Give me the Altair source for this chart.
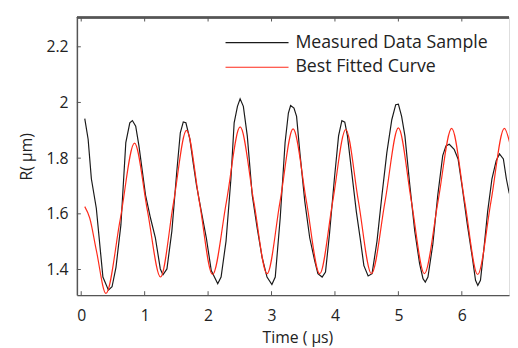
import altair as alt
import pandas as pd

# Measured data (black)
black_t = [0.056, 0.109, 0.16, 0.238, 0.342, 0.429, 0.486, 0.548, 0.626, 0.703, 0.766, 0.807, 0.859, 0.91,
           1.014, 1.092, 1.169, 1.247, 1.289, 1.351, 1.429, 1.506, 1.562, 1.609, 1.65, 1.713, 1.764, 1.817,
           1.894, 1.972, 2.05, 2.152, 2.205, 2.283, 2.36, 2.411, 2.463, 2.505, 2.556, 2.618, 2.696, 2.773,
           2.851, 2.929, 3.006, 3.059, 3.137, 3.214, 3.266, 3.301, 3.354, 3.395, 3.447, 3.525, 3.602, 3.68,
           3.731, 3.798, 3.851, 3.913, 3.991, 4.057, 4.109, 4.155, 4.197, 4.264, 4.337, 4.404, 4.456, 4.523,
           4.585, 4.663, 4.741, 4.818, 4.896, 4.958, 5.0, 5.051, 5.103, 5.18, 5.258, 5.335, 5.388, 5.424,
           5.466, 5.543, 5.621, 5.699, 5.75, 5.802, 5.879, 5.941, 6.009, 6.087, 6.165, 6.216, 6.252, 6.294,
           6.345, 6.407, 6.475, 6.542, 6.593, 6.655, 6.702, 6.748]
black_r = [1.942, 1.868, 1.726, 1.620, 1.373, 1.326, 1.338, 1.408, 1.561, 1.856, 1.927, 1.935, 1.915, 1.844,
           1.667, 1.585, 1.514, 1.402, 1.381, 1.402, 1.538, 1.75, 1.891, 1.930, 1.927, 1.868, 1.785, 1.703,
           1.608, 1.514, 1.396, 1.349, 1.373, 1.502, 1.726, 1.927, 1.986, 2.013, 1.986, 1.88, 1.667, 1.55,
           1.444, 1.373, 1.346, 1.373, 1.585, 1.856, 1.962, 1.989, 1.98, 1.95, 1.82, 1.644, 1.514, 1.432,
           1.385, 1.373, 1.391, 1.526, 1.726, 1.88, 1.935, 1.929, 1.88, 1.75, 1.608, 1.502, 1.414, 1.377,
           1.385, 1.502, 1.667, 1.82, 1.938, 1.992, 1.994, 1.95, 1.88, 1.703, 1.538, 1.42, 1.367, 1.355,
           1.373, 1.491, 1.667, 1.809, 1.844, 1.85, 1.832, 1.797, 1.691, 1.561, 1.444, 1.361, 1.343, 1.361,
           1.467, 1.608, 1.726, 1.791, 1.815, 1.797, 1.726, 1.673]

# Best fitted curve (red)
red_t = [0.056, 0.134, 0.24, 0.39, 0.615, 0.84, 1.045, 1.25, 1.455, 1.66, 1.865, 2.07, 2.29, 2.505, 2.72,
         2.93, 3.135, 3.34, 3.55, 3.76, 3.965, 4.17, 4.37, 4.575, 4.79, 5.0, 5.205, 5.41, 5.625, 5.84,
         6.045, 6.25, 6.46, 6.67, 6.76]
red_r = [1.626, 1.585, 1.467, 1.314, 1.58, 1.854, 1.61, 1.373, 1.64, 1.90, 1.64, 1.382, 1.645, 1.912, 1.645,
         1.385, 1.645, 1.905, 1.645, 1.385, 1.645, 1.903, 1.645, 1.385, 1.645, 1.909, 1.645, 1.385, 1.645,
         1.907, 1.645, 1.382, 1.645, 1.907, 1.85]

x_ticks = [0, 1, 2, 3, 4, 5, 6]
y_ticks = [1.4, 1.6, 1.8, 2.0, 2.2]
series_names = ["Measured Data Sample", "Best Fitted Curve"]
series_colors = ["#1a1a1a", "#ff2a1a"]

FONT = "Open Sans"
W, H = 439, 282
AXC = "#555555"

xs = alt.Scale(domain=[-0.068, 6.744], nice=False, zero=False)
ys = alt.Scale(domain=[1.308, 2.305], nice=False, zero=False)

black_df = pd.DataFrame({"t": black_t, "r": black_r})
red_df = pd.DataFrame({"t": red_t, "r": red_r})
xt_df = pd.DataFrame({"t": x_ticks})
yt_df = pd.DataFrame({"r": y_ticks})

xaxis = alt.Axis(values=x_ticks, tickSize=0, grid=False, domainColor=AXC, domainWidth=1.5, format="d",
                 labelFont=FONT, labelFontSize=16, labelColor="#222", labelPadding=13,
                 title="Time ( μs)", titleFont=FONT, titleFontSize=16, titleFontWeight="normal",
                 titleColor="#222", titlePadding=6, titleX=224)
yaxis = alt.Axis(values=y_ticks, tickSize=0, grid=False, domainColor=AXC, domainWidth=1.5, format="~g",
                 labelFont=FONT, labelFontSize=16, labelColor="#222", labelPadding=9,
                 title="R( μm)", titleFont=FONT, titleFontSize=16, titleFontWeight="normal",
                 titleColor="#222", titlePadding=12)

black_line = alt.Chart(black_df).mark_line(color=series_colors[0], strokeWidth=1.2, clip=True).encode(
    x=alt.X("t:Q", scale=xs, axis=xaxis),
    y=alt.Y("r:Q", scale=ys, axis=yaxis),
    order="t:Q",
)
red_line = alt.Chart(red_df).mark_line(color=series_colors[1], strokeWidth=1.2, clip=True,
                                       interpolate="monotone").encode(
    x=alt.X("t:Q", scale=xs), y=alt.Y("r:Q", scale=ys), order="t:Q")

xt_bottom = alt.Chart(xt_df).mark_rule(color=AXC, strokeWidth=1).encode(
    x=alt.X("t:Q", scale=xs), y=alt.value(H), y2=alt.value(H - 4))
xt_top = alt.Chart(xt_df).mark_rule(color=AXC, strokeWidth=1).encode(
    x=alt.X("t:Q", scale=xs), y=alt.value(0), y2=alt.value(4))
yt_left = alt.Chart(yt_df).mark_rule(color=AXC, strokeWidth=1).encode(
    y=alt.Y("r:Q", scale=ys), x=alt.value(0), x2=alt.value(4))
top_border = alt.Chart(xt_df).mark_rule(color=AXC, strokeWidth=1.5).encode(
    x=alt.value(0), x2=alt.value(W), y=alt.value(0))

legend_layers = []
for i, (name, col) in enumerate(zip(series_names, series_colors)):
    ly = 25.5 + i * 25
    ldf = pd.DataFrame({"label": [name]})
    legend_layers.append(alt.Chart(ldf).mark_rule(color=col, strokeWidth=1.2).encode(
        x=alt.value(151), x2=alt.value(215), y=alt.value(ly)))
    legend_layers.append(alt.Chart(ldf).mark_text(align="left", baseline="middle", font=FONT,
                                                  fontSize=18, color="#222").encode(
        x=alt.value(222), y=alt.value(ly), text="label:N"))

chart = alt.layer(black_line, red_line, xt_bottom, xt_top, yt_left, top_border, *legend_layers).properties(
    width=W, height=H,
    autosize=alt.AutoSizeParams(type="none"),
    padding={"left": 70, "top": 7, "right": 1, "bottom": 50},
).configure_view(stroke=None).configure(background="white")

chart.save("out.html", embed_options={"renderer": "svg", "actions": False})
